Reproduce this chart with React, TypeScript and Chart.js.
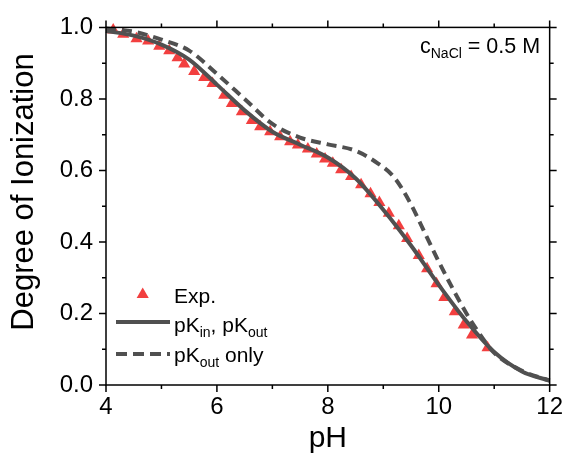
import React, { useEffect, useRef } from 'react';
import { Chart, registerables } from 'chart.js';

Chart.register(...registerables);

// Experimental data (pH, degree of ionization)
const expPH = [4.13, 4.31, 4.55, 4.76, 4.96, 5.14, 5.29, 5.41, 5.59, 5.77, 5.92, 6.13, 6.27, 6.45, 6.63, 6.78, 6.96, 7.14, 7.32, 7.46, 7.64, 7.8, 7.95, 8.09, 8.24, 8.42, 8.6, 8.77, 8.93, 9.1, 9.28, 9.43, 9.64, 9.79, 9.96, 10.1, 10.29, 10.45, 10.6, 10.88];
const expDeg = [0.993, 0.981, 0.968, 0.962, 0.947, 0.935, 0.915, 0.898, 0.877, 0.86, 0.843, 0.81, 0.787, 0.764, 0.74, 0.722, 0.708, 0.694, 0.68, 0.671, 0.66, 0.646, 0.632, 0.62, 0.602, 0.583, 0.56, 0.535, 0.51, 0.48, 0.445, 0.41, 0.362, 0.325, 0.283, 0.245, 0.205, 0.168, 0.14, 0.104];

// Model: pK_in, pK_out
const fitPH = [4.0, 4.5, 5.0, 5.5, 6.0, 6.5, 7.0, 7.5, 8.0, 8.5, 9.0, 9.5, 10.0, 10.5, 11.0, 11.5, 12.0];
const fitDeg = [0.99, 0.977, 0.952, 0.91, 0.84, 0.768, 0.708, 0.672, 0.636, 0.578, 0.49, 0.39, 0.28, 0.178, 0.092, 0.038, 0.012];

// Model: pK_out only
const outPH = [4.0, 4.5, 5.0, 5.5, 6.0, 6.5, 7.0, 7.5, 8.0, 8.5, 8.9, 9.2, 9.5, 9.75, 10.0, 10.25, 10.5, 10.75, 11.0, 11.5, 12.0];
const outDeg = [0.997, 0.988, 0.966, 0.935, 0.87, 0.8, 0.73, 0.692, 0.673, 0.655, 0.62, 0.58, 0.505, 0.425, 0.345, 0.27, 0.2, 0.14, 0.09, 0.04, 0.012];

const xMajor = [4, 6, 8, 10, 12];
const xMinor = [5, 7, 9, 11];
const yMajor = [0, 0.2, 0.4, 0.6, 0.8, 1.0];
const yMinor = [0.1, 0.3, 0.5, 0.7, 0.9];

const yTitle = 'Degree of Ionization';
const xTitle = 'pH';

const FONT = '"Liberation Sans", Arial, Helvetica, sans-serif';
const RED = '#f23f3f';
const GRAY = '#505050';

const toPts = (xs: number[], ys: number[]) => xs.map((x, i) => ({ x, y: ys[i] }));

const framePlugin = {
  id: 'frameAndLegend',
  afterDraw(chart: any) {
    const ctx = chart.ctx as CanvasRenderingContext2D;
    const { left, right, top, bottom } = chart.chartArea;
    const xs = chart.scales.x;
    const ys = chart.scales.y;
    ctx.save();
    ctx.strokeStyle = '#000';
    ctx.lineWidth = 1.5;
    ctx.strokeRect(left, top, right - left, bottom - top);
    const MAJ = 7, MIN = 4;
    ctx.beginPath();
    const xt = (v: number, len: number) => {
      const p = xs.getPixelForValue(v);
      ctx.moveTo(p, bottom); ctx.lineTo(p, bottom + len);
      ctx.moveTo(p, top); ctx.lineTo(p, top - len);
    };
    const yt = (v: number, len: number) => {
      const p = ys.getPixelForValue(v);
      ctx.moveTo(left, p); ctx.lineTo(left - len, p);
      ctx.moveTo(right, p); ctx.lineTo(right + len, p);
    };
    xMajor.forEach(v => xt(v, MAJ));
    xMinor.forEach(v => xt(v, MIN));
    yMajor.forEach(v => yt(v, MAJ));
    yMinor.forEach(v => yt(v, MIN));
    ctx.stroke();

    // Y axis title
    ctx.save();
    ctx.translate(24, 192);
    ctx.rotate(-Math.PI / 2);
    ctx.fillStyle = '#000';
    ctx.font = `31px ${FONT}`;
    ctx.textAlign = 'center';
    ctx.textBaseline = 'middle';
    ctx.fillText(yTitle, 0, 0);
    ctx.restore();

    // Legend
    ctx.fillStyle = RED;
    const tx = 142.7, ty = 294.5, r = 7;
    ctx.beginPath();
    for (let k = 0; k < 3; k++) {
      const a = k * 2 * Math.PI / 3;
      const px = tx + Math.sin(a) * r, py = ty - Math.cos(a) * r;
      if (k === 0) ctx.moveTo(px, py); else ctx.lineTo(px, py);
    }
    ctx.closePath();
    ctx.fill();

    ctx.strokeStyle = GRAY;
    ctx.lineWidth = 4;
    ctx.beginPath();
    ctx.moveTo(116, 322); ctx.lineTo(170, 322);
    ctx.stroke();
    ctx.setLineDash([11, 6]);
    ctx.beginPath();
    ctx.moveTo(116, 354); ctx.lineTo(170, 354);
    ctx.stroke();
    ctx.setLineDash([]);

    ctx.fillStyle = '#000';
    ctx.textBaseline = 'alphabetic';
    ctx.textAlign = 'left';
    const big = `21px ${FONT}`;
    const small = `14px ${FONT}`;
    const runs = (x: number, y: number, parts: [string, boolean][], bigF = big) => {
      let cx = x;
      for (const [s, sub] of parts) {
        ctx.font = sub ? small : bigF;
        ctx.fillText(s, cx, sub ? y + 5 : y);
        cx += ctx.measureText(s).width;
      }
    };
    runs(174, 303, [['Exp.', false]]);
    runs(174, 332, [['pK', false], ['in', true], [', pK', false], ['out', true]]);
    runs(174, 362, [['pK', false], ['out', true], [' only', false]]);
    runs(420, 53, [['c', false], ['NaCl', true], [' = 0.5 M', false]], `21.5px ${FONT}`);
    ctx.restore();
  },
};

export default function App() {
  const ref = useRef<HTMLCanvasElement | null>(null);
  useEffect(() => {
    document.body.style.margin = '0';
    const canvas = ref.current!;
    const chart = new Chart(canvas, {
      type: 'scatter',
      data: {
        datasets: [
          {
            label: 'pK_in, pK_out',
            data: toPts(fitPH, fitDeg),
            showLine: true,
            borderColor: GRAY,
            borderWidth: 4,
            pointRadius: 0,
            cubicInterpolationMode: 'monotone',
            clip: 8,
          } as any,
          {
            label: 'pK_out only',
            data: toPts(outPH, outDeg),
            showLine: true,
            borderColor: GRAY,
            borderWidth: 4,
            borderDash: [10, 6],
            pointRadius: 0,
            cubicInterpolationMode: 'monotone',
            clip: 8,
          } as any,
          {
            label: 'Exp.',
            data: toPts(expPH, expDeg),
            showLine: false,
            pointStyle: 'triangle',
            pointRadius: 7,
            pointBackgroundColor: RED,
            pointBorderColor: RED,
            pointBorderWidth: 0,
            clip: 10,
          } as any,
        ],
      },
      options: {
        responsive: false,
        animation: false,
        devicePixelRatio: 1,
        layout: { padding: { top: 25, right: 17, left: 0, bottom: 0 } },
        plugins: { legend: { display: false }, tooltip: { enabled: false } },
        scales: {
          x: {
            type: 'linear',
            min: 4,
            max: 12,
            grid: { display: false, drawTicks: false },
            border: { display: false },
            ticks: {
              stepSize: 2,
              padding: 8,
              color: '#000',
              font: { family: FONT, size: 24 },
              callback: (v: any) => String(v),
            },
            title: {
              display: true,
              text: xTitle,
              color: '#000',
              font: { family: FONT, size: 30 },
              padding: { top: 0, bottom: -2 },
            },
            afterFit: (s: any) => { s.height = 70; },
          },
          y: {
            type: 'linear',
            min: 0,
            max: 1,
            grid: { display: false, drawTicks: false },
            border: { display: false },
            ticks: {
              stepSize: 0.2,
              padding: 13,
              color: '#000',
              font: { family: FONT, size: 24 },
              callback: (v: any) => Number(v).toFixed(1),
            },
            title: { display: false },
            afterFit: (s: any) => { s.width = 106; },
          },
        },
      },
      plugins: [framePlugin],
    });
    return () => chart.destroy();
  }, []);
  return <canvas ref={ref} width={571} height={455} style={{ display: 'block', width: 571, height: 455 }} />;
}
